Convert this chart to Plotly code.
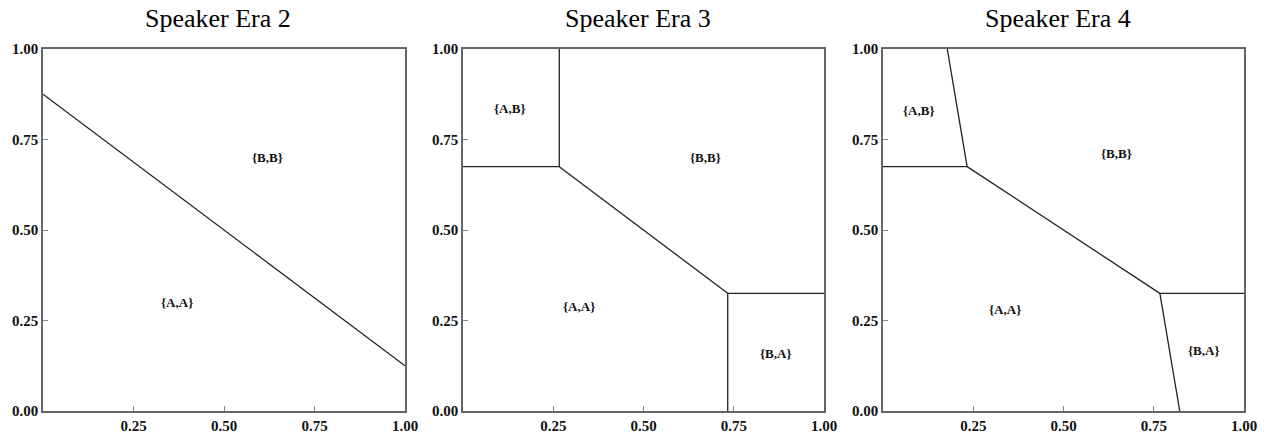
import plotly.graph_objects as go

titles = ["Speaker Era 2", "Speaker Era 3", "Speaker Era 4"]

# boundary segments per panel: list of (xs, ys)
era2_lines = [([0.0, 1.0], [0.875, 0.125])]
era3_lines = [
    ([0.0, 0.2667], [0.675, 0.675]),
    ([0.2667, 0.2667], [0.675, 1.0]),
    ([0.2667, 0.7333], [0.675, 0.325]),
    ([0.7333, 1.0], [0.325, 0.325]),
    ([0.7333, 0.7333], [0.0, 0.325]),
]
era4_lines = [
    ([0.0, 0.233], [0.675, 0.675]),
    ([0.178, 0.233], [1.0, 0.675]),
    ([0.233, 0.767], [0.675, 0.325]),
    ([0.767, 1.0], [0.325, 0.325]),
    ([0.767, 0.822], [0.325, 0.0]),
]

era2_labels = [("{B,B}", 0.62, 0.70), ("{A,A}", 0.37, 0.30)]
era3_labels = [("{A,B}", 0.13, 0.837), ("{B,B}", 0.673, 0.70),
               ("{A,A}", 0.32, 0.29), ("{B,A}", 0.867, 0.158)]
era4_labels = [("{A,B}", 0.10, 0.83), ("{B,B}", 0.648, 0.712),
               ("{A,A}", 0.338, 0.28), ("{B,A}", 0.889, 0.166)]

x_ticks = [0.25, 0.5, 0.75, 1.0]
x_ticktext = ["0.25", "0.50", "0.75", "1.00"]
y_ticks = [0.0, 0.25, 0.5, 0.75, 1.0]
y_ticktext = ["0.00", "0.25", "0.50", "0.75", "1.00"]

panels = [(era2_lines, era2_labels), (era3_lines, era3_labels), (era4_lines, era4_labels)]

W, H = 1267, 434
xdoms = [(43 / W, 405 / W), (463 / W, 824 / W), (883 / W, 1244 / W)]
ydom = ((434 - 411) / H, (434 - 49) / H)

fig = go.Figure()
serif = "Liberation Serif, Times New Roman, serif"

for i, ((lines, labels), title) in enumerate(zip(panels, titles)):
    n = "" if i == 0 else str(i + 1)
    xa, ya = "x" + n, "y" + n
    for xs, ys in lines:
        fig.add_trace(go.Scatter(x=xs, y=ys, mode="lines", xaxis=xa, yaxis=ya,
                                 line=dict(color="#222222", width=1.3),
                                 showlegend=False, hoverinfo="skip"))
    for text, lx, ly in labels:
        fig.add_annotation(text="<b>" + text + "</b>", x=lx, y=ly, xref=xa, yref=ya,
                           showarrow=False, font=dict(family=serif, size=13, color="#111"))
    fig.add_annotation(text=title, x=(xdoms[i][0] + xdoms[i][1]) / 2 - 6 / W, y=(434 - 19) / H,
                       xref="paper", yref="paper", xanchor="center", yanchor="middle",
                       showarrow=False, font=dict(family=serif, size=26, color="#000"))
    common = dict(range=[0, 1], showline=True, mirror=True, linecolor="#666666", linewidth=1.5,
                  ticks="inside", ticklen=5, tickcolor="#888888", showgrid=False, zeroline=False,
                  automargin=False,
                  tickfont=dict(family=serif, size=15, color="#111"), fixedrange=True)
    fig.layout["xaxis" + n] = dict(domain=list(xdoms[i]), anchor=ya, tickvals=x_ticks,
                                   ticktext=["<b>" + t + "</b>" for t in x_ticktext], **common)
    fig.layout["yaxis" + n] = dict(domain=list(ydom), anchor=xa, tickvals=y_ticks,
                                   ticktext=["<b>" + t + "</b>" for t in y_ticktext], **common)

fig.update_layout(width=W, height=H, margin=dict(l=0, r=0, t=0, b=0),
                  paper_bgcolor="white", plot_bgcolor="white")
fig.write_html("out.html")
